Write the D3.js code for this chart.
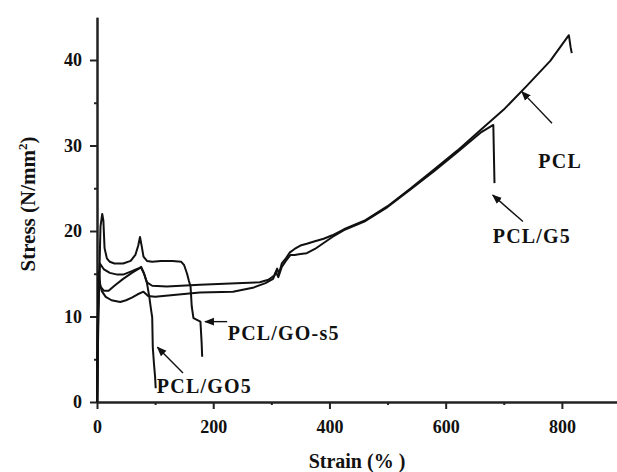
<!DOCTYPE html>
<html>
<head>
<meta charset="utf-8">
<script src="https://cdn.jsdelivr.net/npm/d3@7"></script>
<style>
  body { margin: 0; background: #fff; }
  svg { display: block; }
  .tick text { font-family: "Liberation Serif", "Times New Roman", serif; font-weight: bold; font-size: 18px; fill: #111; }
  .lbl { font-family: "Liberation Serif", "Times New Roman", serif; font-weight: bold; fill: #111; }
</style>
</head>
<body>
<svg width="617" height="472"></svg>
<script>
// stress-strain curves, strain in %, stress in N/mm2
const strainPCL = [0, 1, 3, 6, 12, 20, 30, 45, 60, 70, 76, 80, 86, 95, 120, 177, 240, 280, 295, 305, 310, 313, 318, 325, 332, 340, 350, 361, 375, 390, 405, 425, 460, 500, 540, 580, 620, 660, 700, 740, 780, 812, 815, 817];
const stressPCL = [0, 8, 15.2, 13.5, 13.0, 13.0, 13.6, 14.4, 15.1, 15.5, 15.8, 15.2, 14.0, 13.6, 13.5, 13.7, 13.9, 14.0, 14.3, 14.8, 15.6, 15.0, 16.2, 16.8, 17.5, 17.9, 18.3, 18.5, 18.8, 19.1, 19.5, 20.2, 21.2, 22.9, 25.0, 27.2, 29.4, 31.8, 34.2, 37.0, 39.9, 42.9, 41.5, 40.8];

const strainG5 = [0, 1, 3, 8, 15, 25, 40, 50, 60, 70, 80, 88, 100, 177, 234, 270, 290, 303, 308, 312, 318, 325, 333, 340, 350, 361, 375, 390, 405, 425, 460, 500, 540, 580, 620, 660, 682, 683, 684];
const stressG5 = [0, 9, 14.3, 13.0, 12.3, 11.9, 11.7, 11.9, 12.2, 12.6, 12.9, 12.4, 12.3, 12.8, 12.9, 13.4, 13.9, 14.4, 15.2, 14.6, 15.8, 16.5, 17.2, 17.2, 17.3, 17.4, 17.9, 18.6, 19.3, 20.1, 21.1, 22.8, 24.9, 27.0, 29.2, 31.5, 32.4, 29.0, 25.6];

const strainGOs5 = [0, 3, 6, 9, 11, 13, 17, 22, 30, 45, 58, 66, 71, 74, 77, 80, 86, 95, 110, 130, 145, 150, 155, 158, 161, 163, 166, 172, 178, 180, 181];
const stressGOs5 = [0, 12, 20.5, 22.0, 21.2, 18.0, 16.8, 16.4, 16.2, 16.2, 16.5, 17.2, 18.3, 19.3, 18.2, 17.0, 16.5, 16.4, 16.5, 16.5, 16.4, 16.0, 15.0, 14.2, 13.5, 11.2, 9.8, 9.6, 9.4, 7.0, 5.3];

const strainGO5 = [0, 2, 5, 12, 22, 35, 45, 60, 70, 76, 81, 86, 90, 93, 95, 96, 98, 100, 101];
const stressGO5 = [0, 10, 16.2, 15.5, 15.1, 14.9, 14.9, 15.3, 15.6, 15.7, 15.0, 13.9, 12.3, 10.8, 9.9, 6.4, 4.5, 2.9, 1.6];

const xTicks = [0, 200, 400, 600, 800];
const xMinor = [100, 300, 500, 700];
const yTicks = [0, 10, 20, 30, 40];
const yMinor = [5, 15, 25, 35];

// annotation labels: text, label anchor, arrow tail, arrow tip (data units)
const labelText = ["PCL", "PCL/G5", "PCL/GO-s5", "PCL/GO5"];
const labelPos = [[797, 27.4], [681, 18.6], [225, 7.3], [103, 1.05]];
const arrowFrom = [[783, 32.6], [733, 21.1], [224, 9.4], [148, 3.4]];
const arrowTo = [[731, 36.3], [681, 24.2], [186, 9.4], [104, 6.4]];

const svg = d3.select("svg");
const x = d3.scaleLinear().domain([0, 900]).range([97, 620]);
const y = d3.scaleLinear().domain([0, 45]).range([402, 17.25]);

const zip = (a, b) => a.map((v, i) => [v, b[i]]);
const series = [
  zip(strainPCL, stressPCL),
  zip(strainG5, stressG5),
  zip(strainGOs5, stressGOs5),
  zip(strainGO5, stressGO5)
];

// axes
svg.append("g").attr("transform", `translate(0,${y(0)})`)
  .call(d3.axisBottom(x).tickValues(xTicks).tickSize(7).tickSizeOuter(0).tickPadding(11));
svg.append("g").attr("transform", `translate(0,${y(0)})`)
  .call(d3.axisBottom(x).tickValues(xMinor).tickSize(3).tickSizeOuter(0).tickFormat(""));
svg.append("g").attr("transform", `translate(${x(0)},0)`)
  .call(d3.axisLeft(y).tickValues(yTicks).tickSize(7).tickSizeOuter(0).tickPadding(8));
svg.append("g").attr("transform", `translate(${x(0)},0)`)
  .call(d3.axisLeft(y).tickValues(yMinor).tickSize(3).tickSizeOuter(0).tickFormat(""));

svg.selectAll(".domain").attr("stroke", "#222").attr("stroke-width", 2);
svg.selectAll(".tick line").attr("stroke", "#222").attr("stroke-width", 2);

// curves
const line = d3.line().x(d => x(d[0])).y(d => y(d[1]));
svg.append("g").selectAll("path").data(series).join("path")
  .attr("d", line)
  .attr("fill", "none")
  .attr("stroke", "#111")
  .attr("stroke-width", 2)
  .attr("stroke-linejoin", "round");

// arrows
svg.append("defs").append("marker")
  .attr("id", "head").attr("viewBox", "0 0 10 10")
  .attr("refX", 9).attr("refY", 5)
  .attr("markerWidth", 7).attr("markerHeight", 7)
  .attr("orient", "auto")
  .append("path").attr("d", "M0,1 L10,5 L0,9 Z").attr("fill", "#111");

svg.append("g").selectAll("line").data(arrowFrom).join("line")
  .attr("x1", d => x(d[0])).attr("y1", d => y(d[1]))
  .attr("x2", (d, i) => x(arrowTo[i][0])).attr("y2", (d, i) => y(arrowTo[i][1]))
  .attr("stroke", "#111").attr("stroke-width", 1.4)
  .attr("marker-end", "url(#head)");

svg.append("g").selectAll("text").data(labelText).join("text")
  .attr("class", "lbl")
  .attr("x", (d, i) => x(labelPos[i][0]))
  .attr("y", (d, i) => y(labelPos[i][1]))
  .attr("text-anchor", (d, i) => i === 0 ? "middle" : "start")
  .attr("font-size", 20)
  .attr("letter-spacing", 1.2)
  .text(d => d);

// axis titles
svg.append("text").attr("class", "lbl")
  .attr("x", 357).attr("y", 468)
  .attr("text-anchor", "middle").attr("font-size", 20)
  .text("Strain (% )");

const yt = svg.append("text").attr("class", "lbl")
  .attr("transform", "translate(35,204) rotate(-90)")
  .attr("text-anchor", "middle").attr("font-size", 21);
yt.append("tspan").text("Stress (N/mm");
yt.append("tspan").attr("dy", -8).attr("font-size", 13).text("2");
yt.append("tspan").attr("dy", 8).text(")");
</script>
</body>
</html>
